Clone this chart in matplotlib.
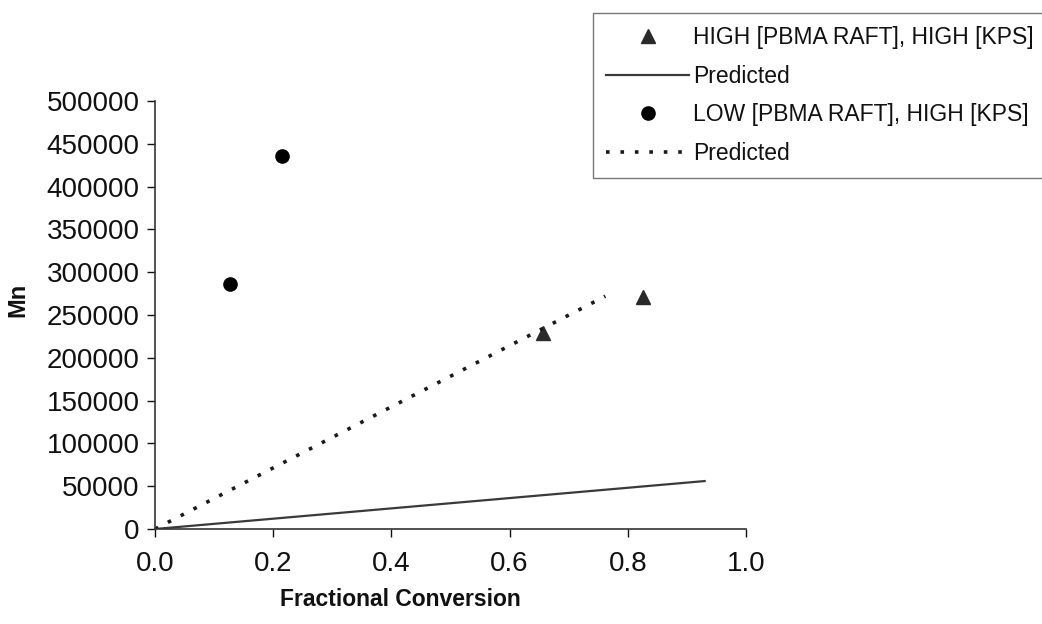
import matplotlib
matplotlib.use("Agg")
import matplotlib.pyplot as plt
import numpy as np

# Measured molecular weight vs. fractional conversion
high_raft_conv = [0.656, 0.826]
high_raft_mn = [229000, 271000]

low_raft_conv = [0.127, 0.215]
low_raft_mn = [286000, 436000]

# Predicted Mn lines (start / end points)
pred_high_conv = [0.0, 0.93]
pred_high_mn = [0, 56000]

pred_low_conv = [0.0, 0.762]
pred_low_mn = [0, 272000]

xticks = [0.0, 0.2, 0.4, 0.6, 0.8, 1.0]
yticks = [0, 50000, 100000, 150000, 200000, 250000, 300000, 350000, 400000, 450000, 500000]

plt.rcParams['font.family'] = ['Liberation Sans', 'DejaVu Sans']

W, H = 1042, 624
fig = plt.figure(figsize=(W / 100, H / 100), dpi=100)
ax = fig.add_axes([155 / W, 1 - 529 / H, (746 - 155) / W, (529 - 101) / H])

tri, = ax.plot(high_raft_conv, high_raft_mn, linestyle='none', marker='^',
               markersize=10.5, color='#2a2a2a', markeredgecolor='#2a2a2a')
solid, = ax.plot(pred_high_conv, pred_high_mn, color='#3a3a3a', linewidth=1.6)
circ, = ax.plot(low_raft_conv, low_raft_mn, linestyle='none', marker='o',
                markersize=9.5, color='black')
dotted, = ax.plot(pred_low_conv, pred_low_mn, color='#1a1a1a', linewidth=2.6,
                  linestyle=(0, (1, 3)))

ax.set_xlim(0, 1.0)
ax.set_ylim(0, 500000)
ax.set_xticks(xticks)
ax.set_xticklabels([f"{v:.1f}" for v in xticks])
ax.set_yticks(yticks)
ax.set_yticklabels([str(v) for v in yticks])

for s in ('top', 'right'):
    ax.spines[s].set_visible(False)
for s in ('left', 'bottom'):
    ax.spines[s].set_color('#333333')
    ax.spines[s].set_linewidth(1.2)

ax.tick_params(axis='x', direction='out', length=6, width=1, pad=10,
               labelsize=20, colors='#111111')
ax.tick_params(axis='y', direction='out', length=6, width=1, pad=5,
               labelsize=20, colors='#111111')
for lab in ax.get_xticklabels() + ax.get_yticklabels():
    lab.set_color('#111111')

fig.text(400 / W, 1 - 600 / H, 'Fractional Conversion', fontsize=16.5,
         fontweight='bold', ha='center', va='center', color='#111111')
fig.text(18 / W, 1 - 300 / H, 'Mn', fontsize=17, fontweight='bold',
         rotation=90, ha='center', va='center', color='#111111')

leg = fig.legend([tri, solid, circ, dotted],
                 ['HIGH [PBMA RAFT], HIGH [KPS]', 'Predicted',
                  'LOW [PBMA RAFT], HIGH [KPS]', 'Predicted'],
                 loc='upper left', bbox_to_anchor=(593 / W, 1 - 13 / H),
                 bbox_transform=fig.transFigure, fontsize=16.5,
                 frameon=True, fancybox=False, handlelength=3.6,
                 handletextpad=0.2, labelspacing=0.68, borderpad=0.58,
                 borderaxespad=0)
leg.get_frame().set_edgecolor('#555555')
leg.get_frame().set_linewidth(1.0)
for t in leg.get_texts():
    t.set_color('#111111')

fig.savefig('out.png', dpi=100, facecolor='white')
